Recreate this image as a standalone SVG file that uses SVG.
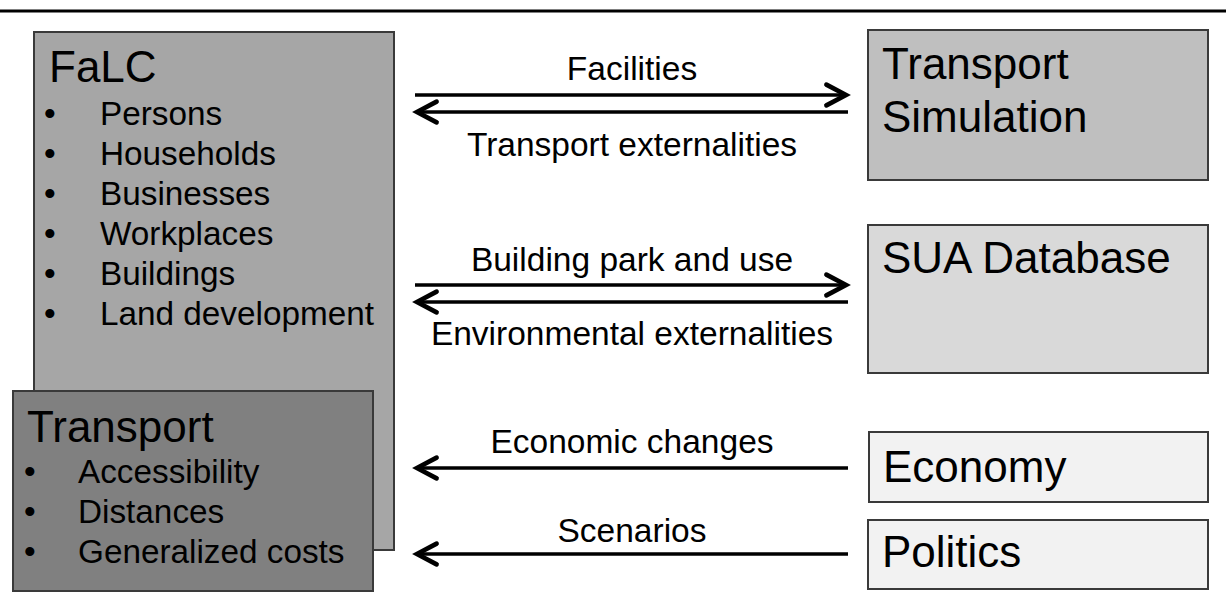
<svg xmlns="http://www.w3.org/2000/svg" width="1226" height="607" viewBox="0 0 1226 607">
<style>
.box{stroke:#3a3a3a;stroke-width:2}
.t{font-family:"Liberation Sans",Arial,sans-serif;fill:#000}
.title{font-size:44px}
.item{font-size:33.3px}
.lbl{font-size:33.5px;text-anchor:middle}
.conn{stroke:#000;stroke-width:3.5;fill:none}
</style>
<defs>
<marker id="ah" markerUnits="userSpaceOnUse" markerWidth="30" markerHeight="30" viewBox="-22 -12 26 24" refX="0" refY="0" orient="auto">
<path d="M-17,-9 L0,0 L-17,9" fill="none" stroke="#000" stroke-width="4" stroke-linecap="round" stroke-linejoin="miter"/>
</marker>
</defs>
<rect width="1226" height="607" fill="#fff"/>
<line x1="0" y1="11" x2="1226" y2="11" stroke="#000" stroke-width="3"/>
<g id="falc">
<rect class="box" x="34" y="32" width="360" height="518" fill="#a6a6a6"/>
<text class="t title" x="49" y="82">FaLC</text>
<g class="t item">
<text x="44" y="125">•</text><text x="100" y="125">Persons</text>
<text x="44" y="165">•</text><text x="100" y="165">Households</text>
<text x="44" y="205">•</text><text x="100" y="205">Businesses</text>
<text x="44" y="245">•</text><text x="100" y="245">Workplaces</text>
<text x="44" y="285">•</text><text x="100" y="285">Buildings</text>
<text x="44" y="325">•</text><text x="100" y="325">Land development</text>
</g>
</g>
<g id="transport">
<rect class="box" x="13" y="391" width="360" height="200" fill="#808080"/>
<text class="t title" x="27" y="442">Transport</text>
<g class="t item">
<text x="24" y="483">•</text><text x="78" y="483">Accessibility</text>
<text x="24" y="523">•</text><text x="78" y="523">Distances</text>
<text x="24" y="563">•</text><text x="78" y="563">Generalized costs</text>
</g>
</g>
<g id="transport-simulation">
<rect class="box" x="868" y="30" width="340" height="150" fill="#bfbfbf"/>
<text class="t title" x="882" y="79">Transport</text>
<text class="t title" x="882" y="132">Simulation</text>
</g>
<g id="sua-database">
<rect class="box" x="868" y="225" width="340" height="148" fill="#d9d9d9"/>
<text class="t title" x="882" y="273">SUA Database</text>
</g>
<g id="economy">
<rect class="box" x="869" y="432" width="339" height="70" fill="#f2f2f2"/>
<text class="t title" x="883" y="482">Economy</text>
</g>
<g id="politics">
<rect class="box" x="868" y="520" width="340" height="69" fill="#f2f2f2"/>
<text class="t title" x="882" y="567">Politics</text>
</g>
<g id="connectors">
<line class="conn" x1="415" y1="95" x2="846" y2="95" marker-end="url(#ah)"/>
<line class="conn" x1="848" y1="112" x2="417" y2="112" marker-end="url(#ah)"/>
<line class="conn" x1="415" y1="285" x2="846" y2="285" marker-end="url(#ah)"/>
<line class="conn" x1="848" y1="302" x2="417" y2="302" marker-end="url(#ah)"/>
<line class="conn" x1="848" y1="468" x2="417" y2="468" marker-end="url(#ah)"/>
<line class="conn" x1="848" y1="554" x2="417" y2="554" marker-end="url(#ah)"/>
<g class="t lbl">
<text x="632" y="80">Facilities</text>
<text x="632" y="156">Transport externalities</text>
<text x="632" y="271">Building park and use</text>
<text x="632" y="345">Environmental externalities</text>
<text x="632" y="453">Economic changes</text>
<text x="632" y="542">Scenarios</text>
</g>
</g>
</svg>
